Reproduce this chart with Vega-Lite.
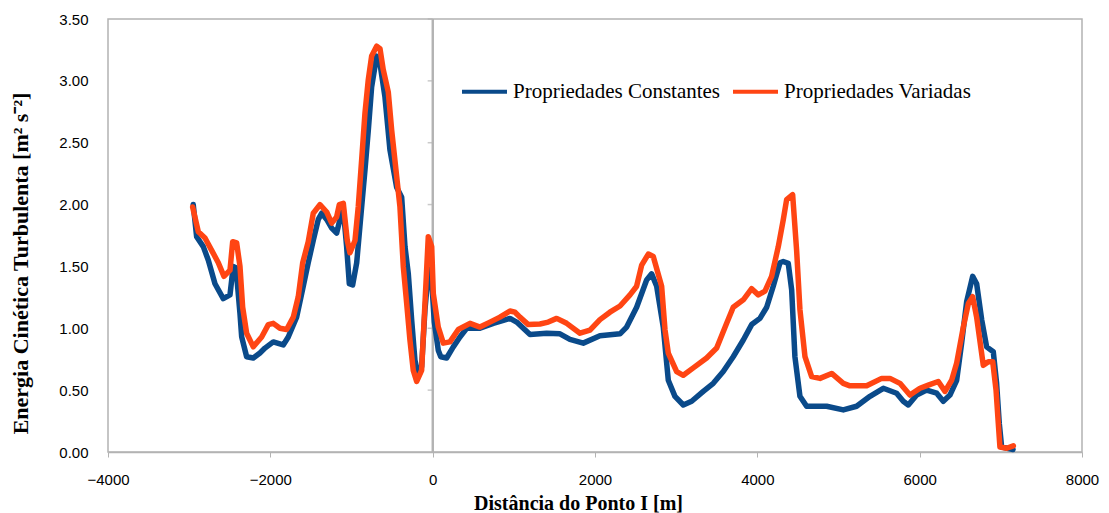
{
  "$schema": "https://vega.github.io/schema/vega-lite/v6.json",
  "width": 974,
  "height": 433,
  "autosize": {"type": "none"},
  "padding": {"left": 108, "top": 19, "right": 27, "bottom": 61},
  "background": "white",
  "config": {
    "view": {"stroke": "#b3b3b3", "strokeWidth": 1.5},
    "axis": {"grid": false, "labelFont": "Liberation Sans", "labelFontSize": 15, "labelColor": "#000000", "labelFlush": false, "titleFont": "Liberation Serif", "titleFontSize": 20, "titleFontWeight": "bold", "titleColor": "#000000"}
  },
  "datasets": {
    "series": [
      {"x": -2950, "y": 2.00, "s": "Propriedades Constantes"},
      {"x": -2908, "y": 1.74, "s": "Propriedades Constantes"},
      {"x": -2826, "y": 1.66, "s": "Propriedades Constantes"},
      {"x": -2764, "y": 1.55, "s": "Propriedades Constantes"},
      {"x": -2682, "y": 1.36, "s": "Propriedades Constantes"},
      {"x": -2580, "y": 1.24, "s": "Propriedades Constantes"},
      {"x": -2497, "y": 1.27, "s": "Propriedades Constantes"},
      {"x": -2457, "y": 1.50, "s": "Propriedades Constantes"},
      {"x": -2423, "y": 1.49, "s": "Propriedades Constantes"},
      {"x": -2374, "y": 1.12, "s": "Propriedades Constantes"},
      {"x": -2353, "y": 0.93, "s": "Propriedades Constantes"},
      {"x": -2292, "y": 0.77, "s": "Propriedades Constantes"},
      {"x": -2210, "y": 0.76, "s": "Propriedades Constantes"},
      {"x": -2128, "y": 0.80, "s": "Propriedades Constantes"},
      {"x": -2066, "y": 0.84, "s": "Propriedades Constantes"},
      {"x": -1964, "y": 0.89, "s": "Propriedades Constantes"},
      {"x": -1841, "y": 0.865, "s": "Propriedades Constantes"},
      {"x": -1779, "y": 0.93, "s": "Propriedades Constantes"},
      {"x": -1676, "y": 1.09, "s": "Propriedades Constantes"},
      {"x": -1594, "y": 1.34, "s": "Propriedades Constantes"},
      {"x": -1533, "y": 1.53, "s": "Propriedades Constantes"},
      {"x": -1471, "y": 1.71, "s": "Propriedades Constantes"},
      {"x": -1409, "y": 1.88, "s": "Propriedades Constantes"},
      {"x": -1368, "y": 1.93, "s": "Propriedades Constantes"},
      {"x": -1306, "y": 1.88, "s": "Propriedades Constantes"},
      {"x": -1244, "y": 1.81, "s": "Propriedades Constantes"},
      {"x": -1183, "y": 1.77, "s": "Propriedades Constantes"},
      {"x": -1142, "y": 1.88, "s": "Propriedades Constantes"},
      {"x": -1101, "y": 1.96, "s": "Propriedades Constantes"},
      {"x": -1060, "y": 1.66, "s": "Propriedades Constantes"},
      {"x": -1027, "y": 1.36, "s": "Propriedades Constantes"},
      {"x": -986, "y": 1.35, "s": "Propriedades Constantes"},
      {"x": -936, "y": 1.53, "s": "Propriedades Constantes"},
      {"x": -875, "y": 1.98, "s": "Propriedades Constantes"},
      {"x": -834, "y": 2.28, "s": "Propriedades Constantes"},
      {"x": -793, "y": 2.60, "s": "Propriedades Constantes"},
      {"x": -752, "y": 2.95, "s": "Propriedades Constantes"},
      {"x": -690, "y": 3.20, "s": "Propriedades Constantes"},
      {"x": -649, "y": 3.14, "s": "Propriedades Constantes"},
      {"x": -588, "y": 2.87, "s": "Propriedades Constantes"},
      {"x": -526, "y": 2.44, "s": "Propriedades Constantes"},
      {"x": -444, "y": 2.14, "s": "Propriedades Constantes"},
      {"x": -382, "y": 2.06, "s": "Propriedades Constantes"},
      {"x": -341, "y": 1.66, "s": "Propriedades Constantes"},
      {"x": -300, "y": 1.44, "s": "Propriedades Constantes"},
      {"x": -259, "y": 1.07, "s": "Propriedades Constantes"},
      {"x": -218, "y": 0.74, "s": "Propriedades Constantes"},
      {"x": -177, "y": 0.62, "s": "Propriedades Constantes"},
      {"x": -136, "y": 0.69, "s": "Propriedades Constantes"},
      {"x": -95, "y": 1.15, "s": "Propriedades Constantes"},
      {"x": -50, "y": 1.48, "s": "Propriedades Constantes"},
      {"x": -15, "y": 1.42, "s": "Propriedades Constantes"},
      {"x": 20, "y": 1.05, "s": "Propriedades Constantes"},
      {"x": 70, "y": 0.82, "s": "Propriedades Constantes"},
      {"x": 100, "y": 0.77, "s": "Propriedades Constantes"},
      {"x": 172, "y": 0.76, "s": "Propriedades Constantes"},
      {"x": 254, "y": 0.85, "s": "Propriedades Constantes"},
      {"x": 336, "y": 0.93, "s": "Propriedades Constantes"},
      {"x": 419, "y": 1.00, "s": "Propriedades Constantes"},
      {"x": 583, "y": 1.00, "s": "Propriedades Constantes"},
      {"x": 747, "y": 1.04, "s": "Propriedades Constantes"},
      {"x": 952, "y": 1.08, "s": "Propriedades Constantes"},
      {"x": 1035, "y": 1.05, "s": "Propriedades Constantes"},
      {"x": 1199, "y": 0.95, "s": "Propriedades Constantes"},
      {"x": 1404, "y": 0.96, "s": "Propriedades Constantes"},
      {"x": 1568, "y": 0.955, "s": "Propriedades Constantes"},
      {"x": 1691, "y": 0.91, "s": "Propriedades Constantes"},
      {"x": 1855, "y": 0.88, "s": "Propriedades Constantes"},
      {"x": 2061, "y": 0.94, "s": "Propriedades Constantes"},
      {"x": 2308, "y": 0.955, "s": "Propriedades Constantes"},
      {"x": 2390, "y": 1.01, "s": "Propriedades Constantes"},
      {"x": 2513, "y": 1.17, "s": "Propriedades Constantes"},
      {"x": 2636, "y": 1.39, "s": "Propriedades Constantes"},
      {"x": 2698, "y": 1.44, "s": "Propriedades Constantes"},
      {"x": 2760, "y": 1.34, "s": "Propriedades Constantes"},
      {"x": 2841, "y": 1.01, "s": "Propriedades Constantes"},
      {"x": 2903, "y": 0.58, "s": "Propriedades Constantes"},
      {"x": 2985, "y": 0.45, "s": "Propriedades Constantes"},
      {"x": 3088, "y": 0.38, "s": "Propriedades Constantes"},
      {"x": 3191, "y": 0.41, "s": "Propriedades Constantes"},
      {"x": 3334, "y": 0.49, "s": "Propriedades Constantes"},
      {"x": 3457, "y": 0.555, "s": "Propriedades Constantes"},
      {"x": 3580, "y": 0.65, "s": "Propriedades Constantes"},
      {"x": 3703, "y": 0.77, "s": "Propriedades Constantes"},
      {"x": 3827, "y": 0.905, "s": "Propriedades Constantes"},
      {"x": 3930, "y": 1.03, "s": "Propriedades Constantes"},
      {"x": 4032, "y": 1.08, "s": "Propriedades Constantes"},
      {"x": 4115, "y": 1.17, "s": "Propriedades Constantes"},
      {"x": 4196, "y": 1.34, "s": "Propriedades Constantes"},
      {"x": 4279, "y": 1.53, "s": "Propriedades Constantes"},
      {"x": 4319, "y": 1.54, "s": "Propriedades Constantes"},
      {"x": 4381, "y": 1.525, "s": "Propriedades Constantes"},
      {"x": 4423, "y": 1.31, "s": "Propriedades Constantes"},
      {"x": 4463, "y": 0.77, "s": "Propriedades Constantes"},
      {"x": 4525, "y": 0.45, "s": "Propriedades Constantes"},
      {"x": 4607, "y": 0.37, "s": "Propriedades Constantes"},
      {"x": 4854, "y": 0.37, "s": "Propriedades Constantes"},
      {"x": 5059, "y": 0.34, "s": "Propriedades Constantes"},
      {"x": 5223, "y": 0.37, "s": "Propriedades Constantes"},
      {"x": 5388, "y": 0.45, "s": "Propriedades Constantes"},
      {"x": 5552, "y": 0.515, "s": "Propriedades Constantes"},
      {"x": 5716, "y": 0.475, "s": "Propriedades Constantes"},
      {"x": 5798, "y": 0.41, "s": "Propriedades Constantes"},
      {"x": 5860, "y": 0.38, "s": "Propriedades Constantes"},
      {"x": 5963, "y": 0.46, "s": "Propriedades Constantes"},
      {"x": 6086, "y": 0.50, "s": "Propriedades Constantes"},
      {"x": 6210, "y": 0.475, "s": "Propriedades Constantes"},
      {"x": 6291, "y": 0.41, "s": "Propriedades Constantes"},
      {"x": 6373, "y": 0.46, "s": "Propriedades Constantes"},
      {"x": 6456, "y": 0.58, "s": "Propriedades Constantes"},
      {"x": 6517, "y": 0.88, "s": "Propriedades Constantes"},
      {"x": 6579, "y": 1.215, "s": "Propriedades Constantes"},
      {"x": 6653, "y": 1.42, "s": "Propriedades Constantes"},
      {"x": 6702, "y": 1.36, "s": "Propriedades Constantes"},
      {"x": 6764, "y": 1.07, "s": "Propriedades Constantes"},
      {"x": 6825, "y": 0.85, "s": "Propriedades Constantes"},
      {"x": 6907, "y": 0.81, "s": "Propriedades Constantes"},
      {"x": 6948, "y": 0.555, "s": "Propriedades Constantes"},
      {"x": 6981, "y": 0.23, "s": "Propriedades Constantes"},
      {"x": 7010, "y": 0.04, "s": "Propriedades Constantes"},
      {"x": 7150, "y": 0.02, "s": "Propriedades Constantes"},
      {"x": -2957, "y": 1.98, "s": "Propriedades Variadas"},
      {"x": -2887, "y": 1.78, "s": "Propriedades Variadas"},
      {"x": -2805, "y": 1.73, "s": "Propriedades Variadas"},
      {"x": -2723, "y": 1.63, "s": "Propriedades Variadas"},
      {"x": -2641, "y": 1.53, "s": "Propriedades Variadas"},
      {"x": -2571, "y": 1.42, "s": "Propriedades Variadas"},
      {"x": -2497, "y": 1.47, "s": "Propriedades Variadas"},
      {"x": -2464, "y": 1.70, "s": "Propriedades Variadas"},
      {"x": -2415, "y": 1.69, "s": "Propriedades Variadas"},
      {"x": -2374, "y": 1.50, "s": "Propriedades Variadas"},
      {"x": -2341, "y": 1.17, "s": "Propriedades Variadas"},
      {"x": -2292, "y": 0.96, "s": "Propriedades Variadas"},
      {"x": -2210, "y": 0.85, "s": "Propriedades Variadas"},
      {"x": -2107, "y": 0.93, "s": "Propriedades Variadas"},
      {"x": -2025, "y": 1.03, "s": "Propriedades Variadas"},
      {"x": -1964, "y": 1.04, "s": "Propriedades Variadas"},
      {"x": -1882, "y": 1.00, "s": "Propriedades Variadas"},
      {"x": -1799, "y": 0.99, "s": "Propriedades Variadas"},
      {"x": -1717, "y": 1.09, "s": "Propriedades Variadas"},
      {"x": -1656, "y": 1.255, "s": "Propriedades Variadas"},
      {"x": -1601, "y": 1.53, "s": "Propriedades Variadas"},
      {"x": -1533, "y": 1.70, "s": "Propriedades Variadas"},
      {"x": -1471, "y": 1.93, "s": "Propriedades Variadas"},
      {"x": -1389, "y": 2.00, "s": "Propriedades Variadas"},
      {"x": -1306, "y": 1.94, "s": "Propriedades Variadas"},
      {"x": -1244, "y": 1.85, "s": "Propriedades Variadas"},
      {"x": -1183, "y": 1.90, "s": "Propriedades Variadas"},
      {"x": -1150, "y": 2.00, "s": "Propriedades Variadas"},
      {"x": -1101, "y": 2.01, "s": "Propriedades Variadas"},
      {"x": -1052, "y": 1.71, "s": "Propriedades Variadas"},
      {"x": -1019, "y": 1.61, "s": "Propriedades Variadas"},
      {"x": -957, "y": 1.71, "s": "Propriedades Variadas"},
      {"x": -917, "y": 1.98, "s": "Propriedades Variadas"},
      {"x": -875, "y": 2.36, "s": "Propriedades Variadas"},
      {"x": -834, "y": 2.74, "s": "Propriedades Variadas"},
      {"x": -793, "y": 3.01, "s": "Propriedades Variadas"},
      {"x": -752, "y": 3.20, "s": "Propriedades Variadas"},
      {"x": -690, "y": 3.28, "s": "Propriedades Variadas"},
      {"x": -649, "y": 3.26, "s": "Propriedades Variadas"},
      {"x": -609, "y": 3.09, "s": "Propriedades Variadas"},
      {"x": -547, "y": 2.91, "s": "Propriedades Variadas"},
      {"x": -505, "y": 2.60, "s": "Propriedades Variadas"},
      {"x": -444, "y": 2.23, "s": "Propriedades Variadas"},
      {"x": -403, "y": 1.98, "s": "Propriedades Variadas"},
      {"x": -362, "y": 1.50, "s": "Propriedades Variadas"},
      {"x": -320, "y": 1.20, "s": "Propriedades Variadas"},
      {"x": -280, "y": 0.905, "s": "Propriedades Variadas"},
      {"x": -239, "y": 0.66, "s": "Propriedades Variadas"},
      {"x": -197, "y": 0.57, "s": "Propriedades Variadas"},
      {"x": -136, "y": 0.66, "s": "Propriedades Variadas"},
      {"x": -95, "y": 1.20, "s": "Propriedades Variadas"},
      {"x": -54, "y": 1.74, "s": "Propriedades Variadas"},
      {"x": -12, "y": 1.66, "s": "Propriedades Variadas"},
      {"x": 8, "y": 1.28, "s": "Propriedades Variadas"},
      {"x": 69, "y": 1.01, "s": "Propriedades Variadas"},
      {"x": 131, "y": 0.88, "s": "Propriedades Variadas"},
      {"x": 213, "y": 0.89, "s": "Propriedades Variadas"},
      {"x": 316, "y": 0.99, "s": "Propriedades Variadas"},
      {"x": 460, "y": 1.04, "s": "Propriedades Variadas"},
      {"x": 583, "y": 1.01, "s": "Propriedades Variadas"},
      {"x": 706, "y": 1.05, "s": "Propriedades Variadas"},
      {"x": 829, "y": 1.09, "s": "Propriedades Variadas"},
      {"x": 952, "y": 1.14, "s": "Propriedades Variadas"},
      {"x": 1014, "y": 1.13, "s": "Propriedades Variadas"},
      {"x": 1075, "y": 1.09, "s": "Propriedades Variadas"},
      {"x": 1178, "y": 1.03, "s": "Propriedades Variadas"},
      {"x": 1322, "y": 1.035, "s": "Propriedades Variadas"},
      {"x": 1424, "y": 1.05, "s": "Propriedades Variadas"},
      {"x": 1528, "y": 1.08, "s": "Propriedades Variadas"},
      {"x": 1651, "y": 1.04, "s": "Propriedades Variadas"},
      {"x": 1815, "y": 0.96, "s": "Propriedades Variadas"},
      {"x": 1938, "y": 0.985, "s": "Propriedades Variadas"},
      {"x": 2061, "y": 1.07, "s": "Propriedades Variadas"},
      {"x": 2184, "y": 1.13, "s": "Propriedades Variadas"},
      {"x": 2308, "y": 1.18, "s": "Propriedades Variadas"},
      {"x": 2431, "y": 1.27, "s": "Propriedades Variadas"},
      {"x": 2513, "y": 1.34, "s": "Propriedades Variadas"},
      {"x": 2575, "y": 1.51, "s": "Propriedades Variadas"},
      {"x": 2657, "y": 1.60, "s": "Propriedades Variadas"},
      {"x": 2718, "y": 1.58, "s": "Propriedades Variadas"},
      {"x": 2821, "y": 1.34, "s": "Propriedades Variadas"},
      {"x": 2862, "y": 0.99, "s": "Propriedades Variadas"},
      {"x": 2903, "y": 0.80, "s": "Propriedades Variadas"},
      {"x": 3006, "y": 0.65, "s": "Propriedades Variadas"},
      {"x": 3088, "y": 0.62, "s": "Propriedades Variadas"},
      {"x": 3211, "y": 0.68, "s": "Propriedades Variadas"},
      {"x": 3375, "y": 0.76, "s": "Propriedades Variadas"},
      {"x": 3499, "y": 0.84, "s": "Propriedades Variadas"},
      {"x": 3622, "y": 1.04, "s": "Propriedades Variadas"},
      {"x": 3703, "y": 1.17, "s": "Propriedades Variadas"},
      {"x": 3827, "y": 1.23, "s": "Propriedades Variadas"},
      {"x": 3930, "y": 1.32, "s": "Propriedades Variadas"},
      {"x": 4012, "y": 1.27, "s": "Propriedades Variadas"},
      {"x": 4094, "y": 1.30, "s": "Propriedades Variadas"},
      {"x": 4176, "y": 1.42, "s": "Propriedades Variadas"},
      {"x": 4258, "y": 1.66, "s": "Propriedades Variadas"},
      {"x": 4319, "y": 1.875, "s": "Propriedades Variadas"},
      {"x": 4361, "y": 2.04, "s": "Propriedades Variadas"},
      {"x": 4435, "y": 2.08, "s": "Propriedades Variadas"},
      {"x": 4484, "y": 1.63, "s": "Propriedades Variadas"},
      {"x": 4525, "y": 1.15, "s": "Propriedades Variadas"},
      {"x": 4587, "y": 0.77, "s": "Propriedades Variadas"},
      {"x": 4669, "y": 0.61, "s": "Propriedades Variadas"},
      {"x": 4772, "y": 0.595, "s": "Propriedades Variadas"},
      {"x": 4916, "y": 0.635, "s": "Propriedades Variadas"},
      {"x": 5059, "y": 0.555, "s": "Propriedades Variadas"},
      {"x": 5141, "y": 0.535, "s": "Propriedades Variadas"},
      {"x": 5347, "y": 0.535, "s": "Propriedades Variadas"},
      {"x": 5532, "y": 0.595, "s": "Propriedades Variadas"},
      {"x": 5634, "y": 0.595, "s": "Propriedades Variadas"},
      {"x": 5757, "y": 0.555, "s": "Propriedades Variadas"},
      {"x": 5880, "y": 0.46, "s": "Propriedades Variadas"},
      {"x": 6004, "y": 0.515, "s": "Propriedades Variadas"},
      {"x": 6106, "y": 0.54, "s": "Propriedades Variadas"},
      {"x": 6229, "y": 0.57, "s": "Propriedades Variadas"},
      {"x": 6312, "y": 0.49, "s": "Propriedades Variadas"},
      {"x": 6394, "y": 0.58, "s": "Propriedades Variadas"},
      {"x": 6456, "y": 0.72, "s": "Propriedades Variadas"},
      {"x": 6538, "y": 1.01, "s": "Propriedades Variadas"},
      {"x": 6600, "y": 1.20, "s": "Propriedades Variadas"},
      {"x": 6653, "y": 1.255, "s": "Propriedades Variadas"},
      {"x": 6702, "y": 1.09, "s": "Propriedades Variadas"},
      {"x": 6784, "y": 0.70, "s": "Propriedades Variadas"},
      {"x": 6846, "y": 0.73, "s": "Propriedades Variadas"},
      {"x": 6900, "y": 0.73, "s": "Propriedades Variadas"},
      {"x": 6941, "y": 0.50, "s": "Propriedades Variadas"},
      {"x": 6969, "y": 0.23, "s": "Propriedades Variadas"},
      {"x": 6989, "y": 0.04, "s": "Propriedades Variadas"},
      {"x": 7072, "y": 0.03, "s": "Propriedades Variadas"},
      {"x": 7154, "y": 0.05, "s": "Propriedades Variadas"}
    ],
    "yticks": [
      {"x": 0, "y": 0.5}, {"x": 0, "y": 1.0}, {"x": 0, "y": 1.5}, {"x": 0, "y": 2.0},
      {"x": 0, "y": 2.5}, {"x": 0, "y": 3.0}, {"x": 0, "y": 3.5}
    ]
  },
  "encoding": {
    "x": {
      "field": "x", "type": "quantitative",
      "scale": {"domain": [-4000, 8000], "nice": false, "zero": false},
      "axis": {"values": [-4000, -2000, 0, 2000, 4000, 6000, 8000], "format": "d", "domainColor": "#b3b3b3", "domainWidth": 1.5, "tickColor": "#b3b3b3", "tickSize": 5, "labelPadding": 15, "title": "Distância do Ponto I [m]", "titleX": 470, "titleY": 51, "titleBaseline": "middle"}
    },
    "y": {
      "field": "y", "type": "quantitative",
      "scale": {"domain": [0, 3.5], "nice": false},
      "axis": {"values": [0, 0.5, 1, 1.5, 2, 2.5, 3, 3.5], "format": ".2f", "domain": false, "ticks": false, "labelPadding": 20, "title": "Energia Cinética Turbulenta  [m² s⁻²]", "titleFontSize": 22, "titleX": -88, "titleY": 244, "titleBaseline": "middle", "titleAnchor": "middle"}
    }
  },
  "layer": [
    {
      "data": {"name": "yticks"},
      "mark": {"type": "rule", "color": "#b3b3b3", "strokeWidth": 1.5},
      "encoding": {"y": null}
    },
    {
      "data": {"name": "yticks"},
      "mark": {"type": "tick", "orient": "horizontal", "size": 5, "thickness": 1.5, "xOffset": -2.5, "color": "#b3b3b3"}
    },
    {
      "data": {"name": "series"},
      "mark": {"type": "line", "strokeWidth": 5.5, "strokeJoin": "round", "strokeCap": "round"},
      "encoding": {
        "color": {
          "field": "s", "type": "nominal",
          "scale": {"domain": ["Propriedades Constantes", "Propriedades Variadas"], "range": ["#0a4a8a", "#ff4513"]},
          "legend": {"orient": "none", "legendX": 352, "legendY": 48, "direction": "horizontal", "title": null, "symbolType": "stroke", "symbolSize": 2025, "symbolStrokeWidth": 4, "labelFont": "Liberation Serif", "labelFontSize": 21, "labelColor": "#000000", "labelOffset": 4, "columnPadding": 4, "labelLimit": 400}
        }
      }
    }
  ]
}
